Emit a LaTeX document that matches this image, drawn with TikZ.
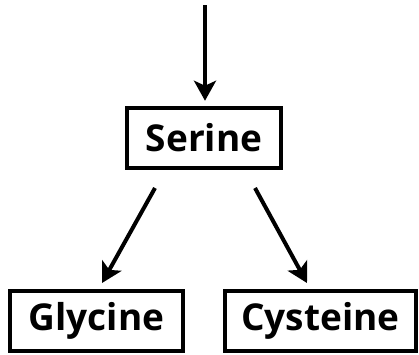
\documentclass[tikz,border=0pt]{standalone}
\usepackage{fontspec}
\setmainfont{Open Sans}
\usetikzlibrary{arrows.meta,calc}
\begin{document}
\begin{tikzpicture}[x=1pt,y=-1pt,
  box/.style={draw=black,line width=4.5pt,rectangle,minimum height=60pt,inner sep=0pt,
    font=\fontsize{37}{40}\selectfont\bfseries,text=black},
  arr/.style={line width=4pt,-{Stealth[length=20pt,width=22pt,inset=5pt]}}]
\path[use as bounding box] (0,0) rectangle (419,354);
\node[box,minimum width=154pt] (serine) at (204,138) {Serine};
\node[box,minimum width=173pt] (glycine) at (96.5,321) {Glycine};
\node[box,minimum width=191pt] (cysteine) at (320.5,321) {Cysteine};
\coordinate (top) at (205,5);
\coordinate (ls) at (155,188);
\coordinate (le) at (102,283);
\coordinate (rs) at (255,188);
\coordinate (re) at (307,283);
\draw[arr,shorten >=5pt] (top) -- (serine.north -| top);
\draw[arr] (ls) -- (le);
\draw[arr] (rs) -- (re);
\end{tikzpicture}
\end{document}
